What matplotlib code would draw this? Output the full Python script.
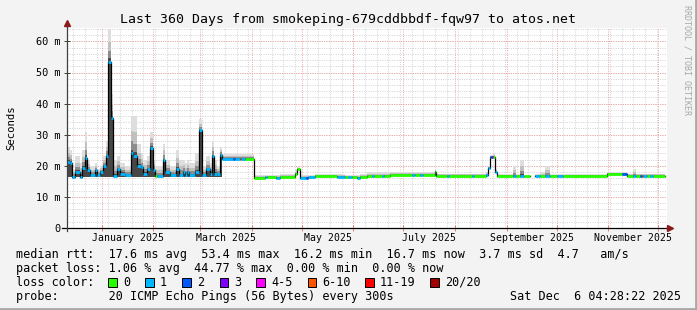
import datetime as dt
import numpy as np
import matplotlib
matplotlib.use('Agg')
import matplotlib.pyplot as plt
from matplotlib.patches import Rectangle
from matplotlib.lines import Line2D

MONO = 'DejaVu Sans Mono'

# graph window
end_time = dt.datetime(2025, 12, 6, 4, 28, 22)
span_days = 360
start_time = end_time - dt.timedelta(days=span_days)

# samples: start day (offset from graph start), median rtt (ms),
# smoke low / high (ms), loss colour class
days = [0.0, 1.8, 3.0, 4.8, 7.8, 9.0, 10.8, 12.0, 13.8, 16.8, 18.0, 19.8, 21.6, 23.4,
        24.3, 26.1, 27.6, 30.0, 31.8, 34.8, 38.4, 39.6, 42.0, 44.4, 45.6, 48.0, 49.8,
        51.6, 52.8, 54.0, 57.6, 58.8, 61.8, 65.4, 67.2, 69.6, 70.8, 72.0, 73.2, 76.8,
        79.2, 80.7, 83.4, 85.8, 86.7, 87.9, 90.0, 91.8,
        93.0, 99.6, 100.8, 103.5, 104.4, 106.8, 112.2, 118.8, 120.0, 125.4, 127.8,
        136.8, 138.0, 139.8, 143.4, 144.6, 148.8, 162.0, 166.8, 168.6, 171.0, 174.0,
        175.8, 180.0, 183.0, 184.2, 189.0, 190.2, 193.8, 207.0, 208.8, 211.8, 213.6,
        220.5, 221.4, 228.0, 229.2, 243.0, 244.2, 251.4, 252.6, 253.8, 254.4, 255.6,
        256.8, 258.0, 267.6, 269.4, 271.8, 274.2, 277.8, 280.8, 283.8, 286.8, 289.8,
        294.0, 297.6, 324.0, 333.0, 336.0, 339.6, 341.4, 343.8, 344.7, 345.6, 348.0,
        349.8, 351.6]
data_end = 358.8

nan = float('nan')
median = [21.3, 21.0, 16.5, 18.1, 16.5, 19.3, 22.5, 18.5, 17.0, 18.5, 17.0, 18.0, 20.0, 23.0,
          53.5, 35.3, 16.8, 19.0, 17.5, 17.0, 24.0, 23.0, 20.0, 19.5, 17.5, 19.0, 25.7,
          18.8, 16.8, 16.8, 21.8, 18.0, 17.0, 19.0, 17.0, 18.0, 17.0, 18.0, 17.0, 18.0,
          31.5, 17.0, 19.0, 17.5, 23.0, 17.5, 17.5, 23.5,
          22.2, 22.2, 22.2, 22.2, 22.2, 22.2, 16.2, 16.3, 16.4, 16.2, 16.4,
          17.5, 18.9, 16.2, 16.2, 16.3, 16.6, 16.5, 16.5, 16.3, 16.4, 16.2,
          16.4, 16.7, 16.7, 16.7, 16.7, 16.8, 17.0, 17.0, 17.0, 17.0, 17.0,
          18.1, 16.8, 16.8, 16.8, 16.8, 16.8, 17.0, 19.3, 22.9, 22.9, 22.9,
          18.0, 16.7, 16.7, 16.7, 16.7, 16.7, nan, 16.7, 16.7, 16.7, 16.7,
          16.7, 16.7, 17.4, 17.4, 16.8, 16.8, 16.8, 16.8, 16.8, 16.8, 16.8,
          16.8, 16.8]
smoke_lo = [16.3] * 48 + [
          22.2, 22.2, 22.2, 22.2, 22.2, 22.2, 16.2, 16.3, 16.4, 16.2, 16.4,
          17.5, 18.9, 16.2, 16.2, 16.3, 16.6, 16.5, 16.5, 16.3, 16.4, 16.2,
          16.4, 16.7, 16.7, 16.7, 16.7, 16.8, 17.0, 17.0, 17.0, 17.0, 17.0,
          18.1, 16.8, 16.8, 16.8, 16.8, 16.8, 17.0, 19.3, 22.9, 22.9, 22.9,
          18.0, 16.7, 16.7, 16.7, 16.7, 16.7, nan, 16.7, 16.7, 16.7, 16.7,
          16.7, 16.7, 17.4, 17.4, 16.8, 16.8, 16.8, 16.8, 16.8, 16.8, 16.8,
          16.8, 16.8]
smoke_hi = [26, 25, 19, 23, 21, 25, 31, 22, 20, 21, 19, 20, 23, 28,
            64, 43, 22, 23, 21, 20, 36, 36, 27, 24, 22, 23, 31,
            22, 20, 20, 27, 22, 20, 25, 22, 22, 21, 22, 21, 24,
            35, 20, 23, 21, 28, 22, 20, 26,
            23.8, 23.8, 23.8, 23.8, 23.8, 23.8, 17, 17, 17, 17, 17.5,
            18.5, 19.5, 17, 17, 17, 17.5, 17.5, 17, 17, 17, 17,
            17.5, 18, 18, 18, 18, 18, 18, 18, 18, 18, 18,
            19, 17.5, 17.5, 17.5, 17.5, 17.5, 18, 20, 23.5, 23.5, 24,
            19, 17.5, 20, 17.5, 22, 18, nan, 17.5, 18, 20, 17.5,
            17.5, 17.5, 18, 18, 17.5, 19, 17.5, 17.5, 17.5, 17.5, 17.5,
            17.5, 17.5]
loss = [1] * 28 + [0] + [1] * 19 + [
        1, 2, 1, 5, 1, 0, 0, 1, 0, 1, 0,
        0, 0, 1, 2, 1, 0, 1, 0, 1, 0, 1,
        0, 0, 1, 0, 1, 0, 0, 1, 0, 1, 0,
        0, 0, 1, 0, 1, 0, 1, 1, 1, 3, 0,
        1, 0, 1, 0, 1, 0, 0, 1, 0, 1, 0,
        1, 0, 0, 2, 0, 1, 0, 2, 5, 1, 0,
        1, 0]

y_ticks = [0, 10, 20, 30, 40, 50, 60]
y_tick_labels = ['0', '10 m', '20 m', '30 m', '40 m', '50 m', '60 m']
month_labels = ['January 2025', 'March 2025', 'May 2025', 'July 2025',
                'September 2025', 'November 2025']

loss_colors = ['#26ff00', '#00b8ff', '#0059ff', '#7e00ff', '#ff00ff',
               '#ff5500', '#ff0000', '#a10000']
loss_labels = ['0', '1', '2', '3', '4-5', '6-10', '11-19', '20/20']

title = 'Last 360 Days from smokeping-679cddbbdf-fqw97 to atos.net'
legend_lines = [
    'median rtt:  17.6 ms avg  53.4 ms max  16.2 ms min  16.7 ms now  3.7 ms sd  4.7   am/s',
    'packet loss: 1.06 % avg  44.77 % max  0.00 % min  0.00 % now',
    'loss color:',
    'probe:       20 ICMP Echo Pings (56 Bytes) every 300s',
]
stamp = 'Sat Dec  6 04:28:22 2025'

# --- layout in pixels ---
W, H = 697, 310
PX_L, PX_R, PX_T, PX_B = 67, 667, 28, 228
Y_MAX = (PX_B - PX_T) / 3.11


def fx(x):
    return x / W


def fy(y):
    return 1 - y / H


fig = plt.figure(figsize=(W / 100, H / 100), dpi=100, facecolor='#f3f3f3')
ax = fig.add_axes([fx(PX_L), fy(PX_B), (PX_R - PX_L) / W, (PX_B - PX_T) / H])
ax.set_facecolor('white')
ax.set_xlim(0, span_days)
ax.set_ylim(0, Y_MAX)
for s in ax.spines.values():
    s.set_visible(False)


def day_of(t):
    return (t - start_time).total_seconds() / 86400.0


# grid: weekly / 2 m minor, monthly / 10 m major
t = dt.datetime(2024, 12, 15)
while t < end_time:
    ax.axvline(day_of(t), color='#d2d2d2', lw=0.7, ls=(0, (1, 1.4)), zorder=0)
    t += dt.timedelta(days=7)
for v in np.arange(2, Y_MAX, 2):
    ax.axhline(v, color='#d2d2d2', lw=0.7, ls=(0, (1, 1.4)), zorder=0)
month_starts = [dt.datetime(2025 if m <= 12 else 2026, (m - 1) % 12 + 1, 1) for m in range(1, 14)]
for ms in month_starts:
    d = day_of(ms)
    if 0 < d < span_days:
        ax.axvline(d, color='#f0a0a0', lw=0.7, ls=(0, (1, 1.4)), zorder=0.5)
for v in y_ticks[1:]:
    ax.axhline(v, color='#f0a0a0', lw=0.7, ls=(0, (1, 1.4)), zorder=0.5)

# --- smoke, median line and loss colours ---
edges = np.array(days + [data_end])
med = np.array(median)
lo = np.array(smoke_lo)
hi = np.array(smoke_hi)


def stp(v):
    return np.append(v, v[-1])


for frac, col in [(1.0, '#dedede'), (0.6, '#c0c0c0'), (0.32, '#8c8c8c'), (0.1, '#4a4a4a')]:
    ax.fill_between(edges, stp(med), stp(med + (hi - med) * frac), step='post',
                    color=col, lw=0, zorder=1)
ax.fill_between(edges, stp(lo), stp(med), step='post', color='#474747', lw=0, zorder=1)
ax.step(edges, stp(med), where='post', color='black', lw=0.9, zorder=2)
ax.hlines(med, edges[:-1], edges[1:], colors=[loss_colors[k] for k in loss],
          lw=2.0, zorder=3)

# --- axes, ticks and labels ---
ax.set_yticks(y_ticks)
ax.set_yticklabels(y_tick_labels, fontsize=7.4, family=MONO)
ax.set_xticks([day_of(m) for m in month_starts if 0 < day_of(m) < span_days])
ax.set_xticklabels([])
ax.tick_params(axis='y', direction='inout', length=4, width=0.7, color='#404040', pad=3)
ax.tick_params(axis='x', direction='inout', length=4, width=0.7, color='#e08080', pad=2)

for i, lab in enumerate(month_labels):
    a = day_of(month_starts[2 * i])
    b = day_of(month_starts[2 * i + 1])
    ax.text((a + b) / 2, -10 / (PX_B - PX_T) * Y_MAX, lab, ha='center', va='center',
            fontsize=7.1, family=MONO, clip_on=False)

# axis lines with arrows
fig.add_artist(Line2D([fx(62), fx(668)], [fy(PX_B), fy(PX_B)], color='black', lw=0.9))
fig.add_artist(Line2D([fx(PX_L), fx(PX_L)], [fy(PX_B + 3), fy(24)], color='#404040', lw=0.9))
fig.add_artist(Line2D([fx(670)], [fy(PX_B)], marker='>', ms=5, color='#8b1a1a', lw=0))
fig.add_artist(Line2D([fx(PX_L)], [fy(23)], marker='^', ms=5, color='#8b1a1a', lw=0))

fig.text(fx(11), fy(128), 'Seconds', rotation=90, ha='center', va='center',
         fontsize=7.7, family=MONO)
fig.text(fx(W / 2), fy(19), title, ha='center', va='center', fontsize=9.5, family=MONO)
fig.text(fx(687.5), fy(5), 'RRDTOOL / TOBI OETIKER', rotation=270, ha='center', va='top',
         fontsize=6, family=MONO, color='#a8a8a8')

# --- legend block ---
rows_y = [254.3, 268.3, 282.3, 296.3]
for txt, y in zip(legend_lines, rows_y):
    fig.text(fx(16), fy(y), txt, ha='left', va='center', fontsize=8.5, family=MONO)
fig.text(fx(681), fy(rows_y[3]), stamp, ha='right', va='center', fontsize=8.5, family=MONO)

box_x = [108, 145, 182, 219.5, 256, 307.5, 365, 430]
for bx, col, lab in zip(box_x, loss_colors, loss_labels):
    fig.add_artist(Rectangle((fx(bx), fy(rows_y[2] + 4.5)), 8.5 / W, 9 / H,
                             facecolor=col, edgecolor='black', lw=0.7))
    fig.text(fx(bx + 15), fy(rows_y[2]), lab, ha='left', va='center', fontsize=8.5, family=MONO)

# frame shading
fig.add_artist(Line2D([fx(W - 1.5), fx(W - 1.5)], [0, 1], color='#a8a8a8', lw=2))
fig.add_artist(Line2D([0, 1], [fy(H - 1.5), fy(H - 1.5)], color='#a8a8a8', lw=2))

fig.savefig('out.png', dpi=100, facecolor=fig.get_facecolor())
